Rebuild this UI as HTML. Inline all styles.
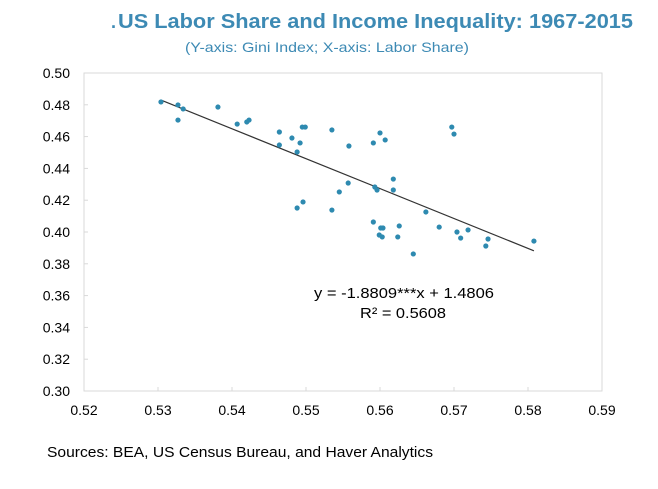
<!DOCTYPE html>
<html><head><meta charset="utf-8"><style>
body{margin:0;background:#fff;width:658px;height:484px;overflow:hidden;font-family:"Liberation Sans",sans-serif}
</style></head><body>
<svg width="658" height="484" xmlns="http://www.w3.org/2000/svg" style="font-family:'Liberation Sans',sans-serif">
<text x="111" y="28" fill="#3d8ab4" font-size="18" font-weight="bold">.</text>
<text x="118" y="28" textLength="515" lengthAdjust="spacingAndGlyphs" fill="#3d8ab4" font-size="20" font-weight="bold">US Labor Share and Income Inequality: 1967-2015</text>
<text x="185" y="52" textLength="284" lengthAdjust="spacingAndGlyphs" fill="#3d8ab4" font-size="14">(Y-axis: Gini Index; X-axis: Labor Share)</text>
<rect x="84" y="73" width="518" height="318" fill="none" stroke="#d9d9d9" stroke-width="1"/>
<g id="axes"></g>
<g id="marks"></g>
<text x="314" y="298" textLength="180" lengthAdjust="spacingAndGlyphs" font-size="15" fill="#000">y = -1.8809***x + 1.4806</text>
<text x="360" y="318" textLength="86" lengthAdjust="spacingAndGlyphs" font-size="15" fill="#000">R² = 0.5608</text>
<text x="47" y="457" textLength="386" lengthAdjust="spacingAndGlyphs" font-size="15" fill="#000">Sources: BEA, US Census Bureau, and Haver Analytics</text>
</svg>
<script>
const xTicks=[0.52,0.53,0.54,0.55,0.56,0.57,0.58,0.59];
const yTicks=[0.30,0.32,0.34,0.36,0.38,0.40,0.42,0.44,0.46,0.48,0.50];
const laborShare=[.5304,.5327,.5334,.5327,.5381,.5407,.5420,.5423,.5464,.5464,.5481,.5492,.5488,.5495,.5499,.5535,.5558,.5591,.5600,.5607,.5697,.5700,.5618,.5557,.5545,.5593,.5596,.5618,.5496,.5488,.5535,.5591,.5601,.5604,.5599,.5603,.5626,.5624,.5645,.5662,.5680,.5704,.5709,.5719,.5746,.5743,.5808];
const gini=[.4818,.4799,.4774,.4704,.4786,.4679,.4692,.4704,.4629,.4547,.4591,.4560,.4503,.4660,.4660,.4642,.4541,.4560,.4623,.4579,.4660,.4616,.4333,.4308,.4252,.4283,.4264,.4264,.4189,.4151,.4138,.4063,.4025,.4025,.3981,.3969,.4038,.3969,.3862,.4126,.4031,.4000,.3962,.4013,.3956,.3912,.3943];
const slope=-1.8809, intercept=1.4806;
const NS="http://www.w3.org/2000/svg";
const X=v=>84+(v-0.52)/0.07*518;
const Y=v=>391-(v-0.30)/0.20*318;
const ax=document.getElementById('axes'), mk=document.getElementById('marks');
function el(t,a,p){const e=document.createElementNS(NS,t);for(const k in a)e.setAttribute(k,a[k]);p.appendChild(e);return e;}
yTicks.forEach(v=>{
 const t=el('line',{x1:84,x2:88,y1:Y(v),y2:Y(v),stroke:'#d9d9d9'},ax);
 
 
 const l=el('text',{x:70,y:Y(v)+5,'text-anchor':'end','font-size':14},ax);
 l.textContent=v.toFixed(2);
 
 
});
xTicks.forEach(v=>{
 const t=el('line',{x1:X(v),x2:X(v),y1:391,y2:387,stroke:'#d9d9d9'},ax);
 
 
 const l=el('text',{x:X(v),y:415,'text-anchor':'middle','font-size':14},ax);
 l.textContent=v.toFixed(2);
 
 
});
const xmin=Math.min(...laborShare), xmax=Math.max(...laborShare);
const tl=el('line',{x1:X(xmin),y1:Y(slope*xmin+intercept),x2:X(xmax),y2:Y(slope*xmax+intercept),stroke:'#333',"stroke-width":1.2},mk);


laborShare.forEach((x,i)=>{
 const c=el('circle',{cx:X(x),cy:Y(gini[i]),r:2.6,fill:'#2e8ab0'},mk);
 
 
});
</script>
</body></html>
